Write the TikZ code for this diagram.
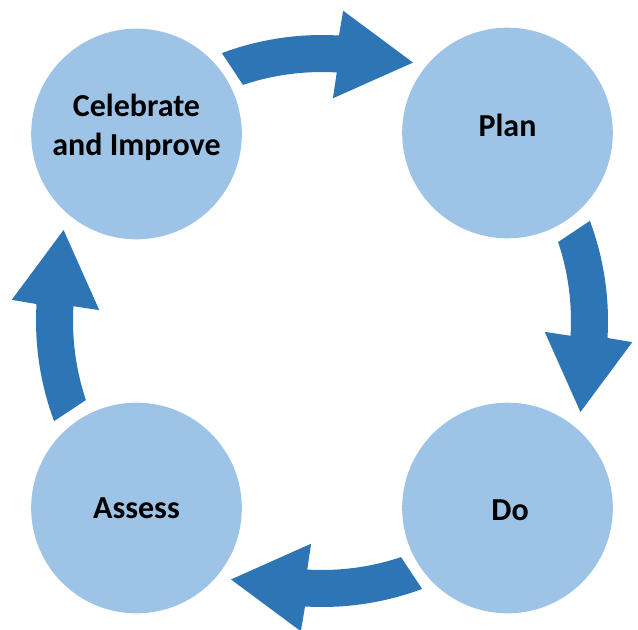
\documentclass[tikz,border=0pt]{standalone}
\usepackage{fontspec}
\setmainfont{Carlito}
\definecolor{stagefill}{HTML}{9DC3E6}
\definecolor{arrowblue}{HTML}{2E75B6}
\begin{document}
\begin{tikzpicture}[x=0.75pt, y=0.75pt, line join=round,
		stage/.style={circle, fill=stagefill, minimum size=158pt, inner sep=0pt},
		stagelabel/.style={align=center, font=\fontsize{24}{29}\selectfont\bfseries},
		cyclearrow/.style={fill=arrowblue}]
		%	\draw[color=gray!50,dashed] (-322,-308) grid[step=50] (316,321);
		\useasboundingbox (-322,-308) rectangle (316,321);
		\coordinate (hub) at (0,0);
		\node[stage] (celebrate) at (-185.5,187) {};
		\node[stage] (plan) at (185.5,188) {};
		\node[stage] (do) at (185.5,-187) {};
		\node[stage] (assess) at (-185.5,-187) {};
		\node[stagelabel] (celebratetext) at ([yshift=5]celebrate.center) {Celebrate\\and Improve};
		\node[stagelabel] (plantext) at ([yshift=6]plan.center) {Plan};
		\node[stagelabel] (dotext) at ([xshift=2,yshift=-2]do.center) {Do};
		\node[stagelabel] (assesstext) at (assess.center) {Assess};
		% curved block arrows, turned a quarter each
		\foreach \a in {0,-90,-180,-270}
		\fill[cyclearrow, shift={(hub)}, rotate=\a]
			(108.5:249) arc[start angle=108.5, end angle=86.6, radius=249]
			-- (87.2:223) -- (70.6:274) -- (86.1:311) -- (86.6:286)
			arc[start angle=86.6, end angle=110.5, radius=286] -- cycle;
\end{tikzpicture}
\end{document}
